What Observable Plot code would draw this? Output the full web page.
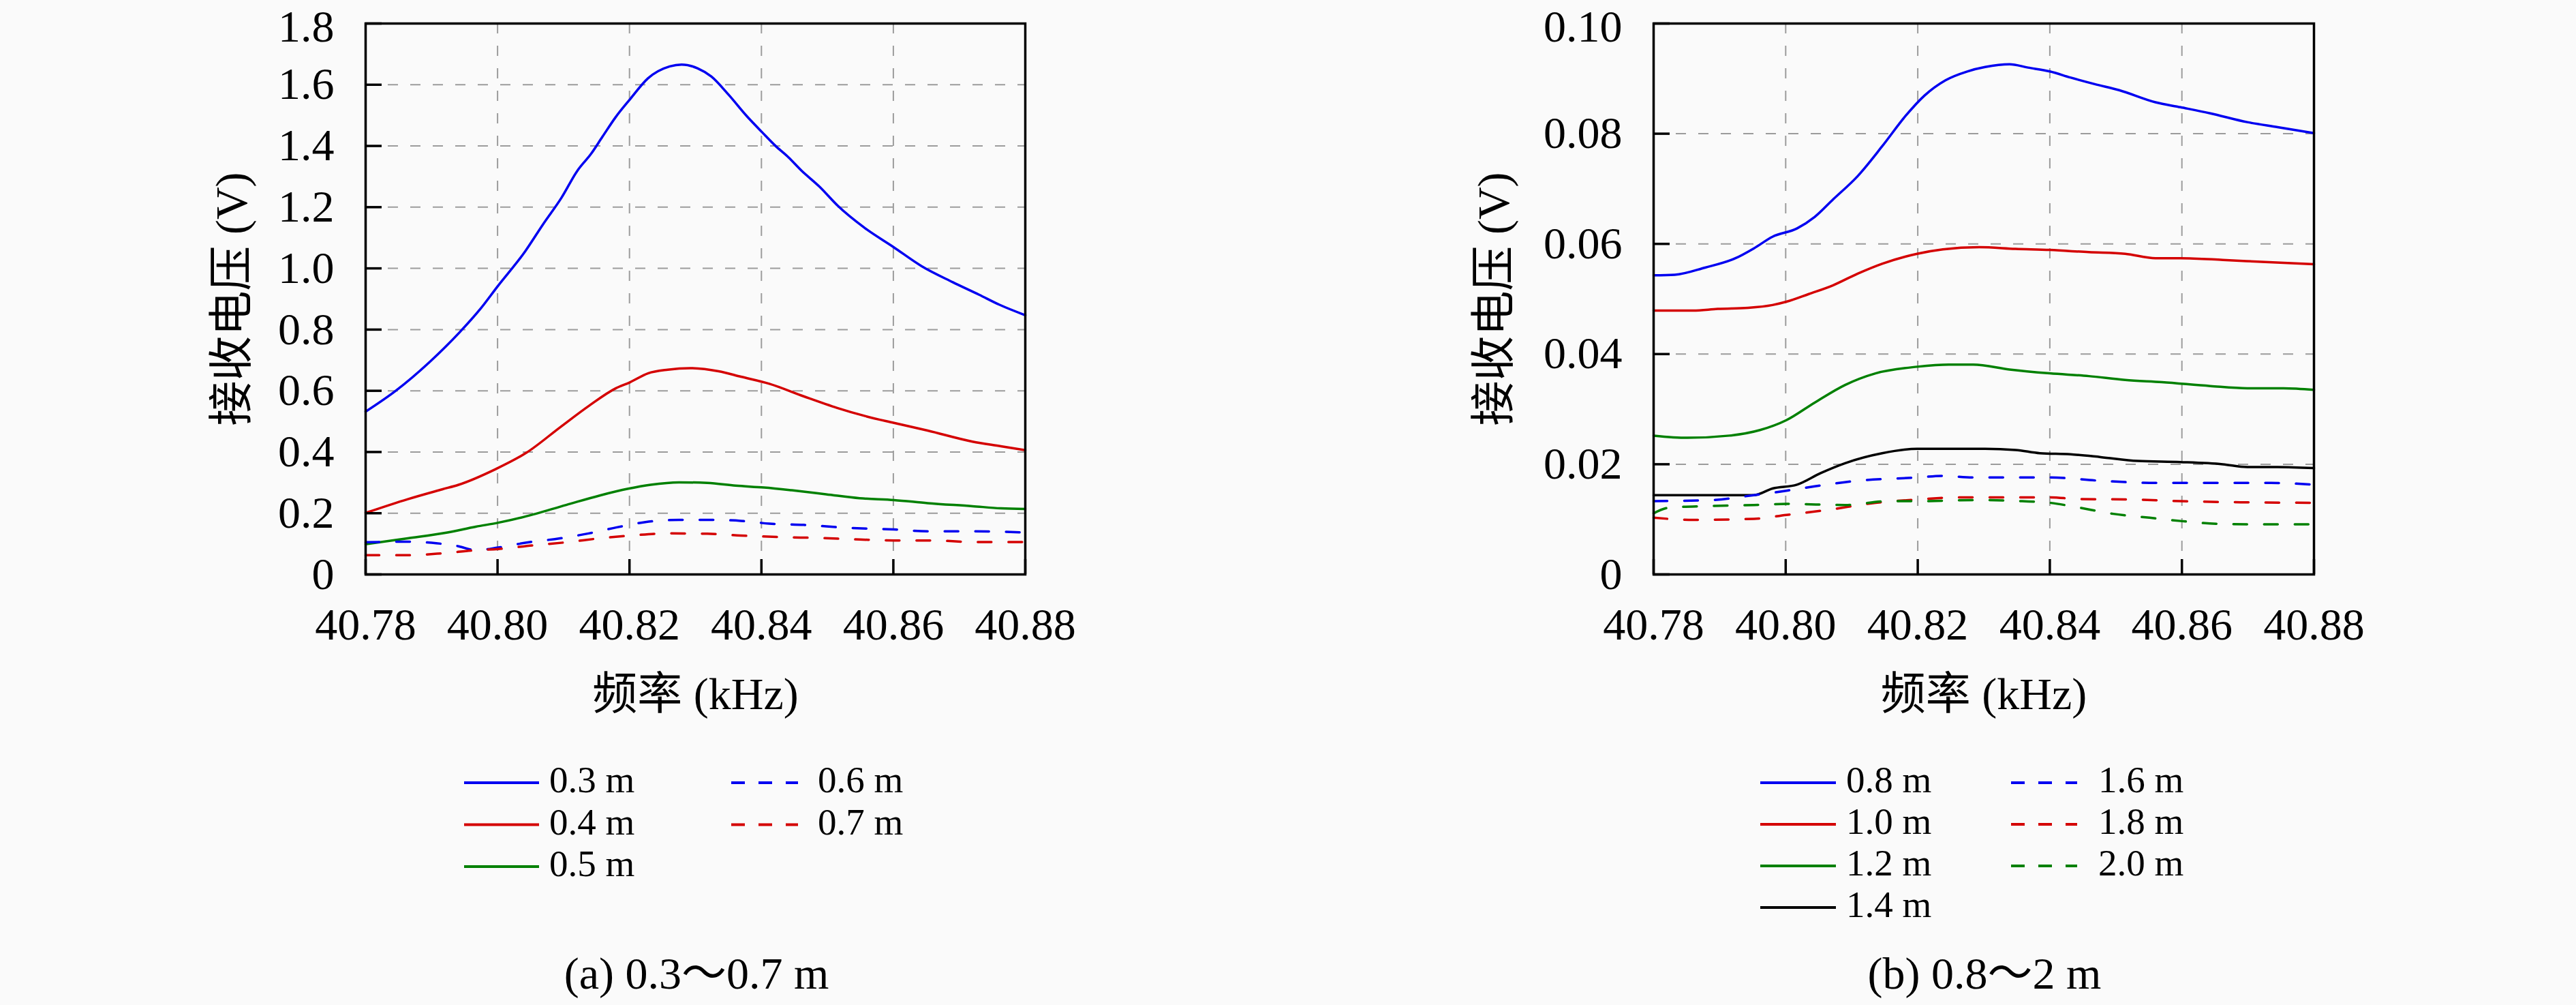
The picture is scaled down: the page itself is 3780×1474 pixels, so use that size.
<!DOCTYPE html>
<html>
<head>
<meta charset="utf-8">
<script src="https://cdn.jsdelivr.net/npm/d3@7"></script>
<script src="https://cdn.jsdelivr.net/npm/@observablehq/plot@0.6"></script>
<style>
html, body { margin: 0; padding: 0; background: #fafafa; }
#root { position: relative; width: 3780px; height: 1474px; overflow: hidden; background: #fafafa;
  font-family: "Liberation Serif", "Noto Sans CJK SC", serif; color: #000; }
.pw { position: absolute; top: 0; }
.txt { position: absolute; font-size: 55px; line-height: 0.85; white-space: pre; transform: translateY(-50%); }
.cap { position: absolute; font-size: 66px; line-height: 0.9; white-space: pre; transform: translate(-50%, -50%); }
#legsvg { position: absolute; left: 0; top: 0; }
</style>
</head>
<body>
<div id="root"></div>
<script>
// ---------------- DATA ----------------
const xTicks = [40.78, 40.80, 40.82, 40.84, 40.86, 40.88];
const yTicksA = [0, 0.2, 0.4, 0.6, 0.8, 1.0, 1.2, 1.4, 1.6, 1.8];
const yTicksB = [0, 0.02, 0.04, 0.06, 0.08, 0.10];
const xLabel = "频率 (kHz)";
const yLabel = "接收电压 (V)";
const captionA = "(a) 0.3～0.7 m";
const captionB = "(b) 0.8～2 m";

// Panel (a)
const labelsA = ["0.3 m", "0.4 m", "0.5 m", "0.6 m", "0.7 m"];
const f03 = [40.7800,40.7845,40.7897,40.7942,40.7973,40.8000,40.8042,40.8069,40.8097,40.8121,40.8142,40.8159,40.8179,40.8201,40.8228,40.8261,40.8279,40.8303,40.8324,40.8350,40.8378,40.8401,40.8421,40.8441,40.8461,40.8488,40.8516,40.8556,40.8600,40.8643,40.8690,40.8730,40.8761,40.8800];
const v03 = [0.532,0.599,0.694,0.790,0.865,0.941,1.056,1.144,1.231,1.319,1.375,1.430,1.494,1.553,1.621,1.660,1.666,1.654,1.627,1.568,1.497,1.445,1.401,1.363,1.319,1.267,1.204,1.133,1.070,1.007,0.955,0.914,0.881,0.847];
const f04 = [40.7800,40.7864,40.7916,40.7941,40.7997,40.8044,40.8095,40.8138,40.8179,40.8201,40.8228,40.8258,40.8292,40.8335,40.8369,40.8412,40.8464,40.8515,40.8558,40.8601,40.8652,40.8720,40.8763,40.8800];
const v04 = [0.201,0.246,0.278,0.293,0.344,0.398,0.481,0.550,0.608,0.628,0.657,0.669,0.674,0.664,0.646,0.623,0.582,0.544,0.517,0.495,0.470,0.434,0.419,0.406];
const f05 = [40.7800,40.7864,40.7924,40.7967,40.8001,40.8040,40.8104,40.8155,40.8198,40.8232,40.8275,40.8318,40.8361,40.8404,40.8446,40.8498,40.8549,40.8601,40.8652,40.8720,40.8763,40.8800];
const v05 = [0.099,0.118,0.137,0.156,0.169,0.188,0.227,0.258,0.280,0.293,0.301,0.299,0.290,0.284,0.275,0.262,0.249,0.243,0.233,0.223,0.216,0.214];
const f06 = [40.7800,40.7864,40.7907,40.7941,40.7967,40.8001,40.8044,40.8095,40.8138,40.8181,40.8224,40.8275,40.8327,40.8369,40.8412,40.8464,40.8532,40.8601,40.8652,40.8720,40.8800];
const v06 = [0.105,0.107,0.102,0.092,0.079,0.088,0.104,0.118,0.134,0.154,0.171,0.178,0.178,0.175,0.166,0.162,0.152,0.147,0.141,0.141,0.137];
const f07 = [40.7800,40.7864,40.7916,40.7967,40.8001,40.8053,40.8104,40.8155,40.8207,40.8258,40.8318,40.8369,40.8429,40.8489,40.8549,40.8601,40.8660,40.8720,40.8800];
const v07 = [0.063,0.063,0.069,0.079,0.083,0.095,0.105,0.118,0.128,0.134,0.133,0.127,0.122,0.119,0.114,0.111,0.111,0.106,0.106];

// Panel (b)
const labelsB = ["0.8 m", "1.0 m", "1.2 m", "1.4 m", "1.6 m", "1.8 m", "2.0 m"];
const f08 = [40.7800,40.7832,40.7878,40.7924,40.7952,40.7980,40.8017,40.8044,40.8072,40.8109,40.8146,40.8182,40.8210,40.8242,40.8275,40.8302,40.8339,40.8367,40.8400,40.8431,40.8468,40.8505,40.8560,40.8598,40.8643,40.8699,40.8745,40.8800];
const v08 = [0.0543,0.0544,0.0557,0.0574,0.0592,0.0613,0.0628,0.0649,0.0681,0.0723,0.0777,0.0833,0.0869,0.0897,0.0913,0.0921,0.0926,0.0920,0.0913,0.0902,0.0890,0.0879,0.0857,0.0848,0.0837,0.0821,0.0812,0.0801];
const f10 = [40.7800,40.7860,40.7897,40.7943,40.7980,40.8001,40.8035,40.8072,40.8109,40.8146,40.8199,40.8238,40.8293,40.8348,40.8400,40.8459,40.8514,40.8560,40.8598,40.8662,40.8726,40.8800];
const v10 = [0.0479,0.0479,0.0482,0.0484,0.0489,0.0495,0.0509,0.0525,0.0546,0.0564,0.0582,0.0590,0.0594,0.0591,0.0589,0.0585,0.0582,0.0574,0.0574,0.0571,0.0567,0.0563];
const f12 = [40.7800,40.7851,40.7915,40.7961,40.8001,40.8044,40.8090,40.8136,40.8199,40.8247,40.8284,40.8339,40.8400,40.8459,40.8514,40.8570,40.8643,40.8699,40.8754,40.8800];
const v12 = [0.0252,0.0248,0.0252,0.0262,0.0280,0.0312,0.0344,0.0365,0.0377,0.0381,0.0381,0.0372,0.0365,0.0360,0.0353,0.0349,0.0342,0.0338,0.0338,0.0335];
const f14 = [40.7800,40.7878,40.7952,40.7980,40.8017,40.8053,40.8090,40.8146,40.8199,40.8256,40.8302,40.8348,40.8385,40.8431,40.8477,40.8533,40.8598,40.8662,40.8699,40.8745,40.8800];
const v14 = [0.0144,0.0144,0.0144,0.0156,0.0163,0.0184,0.0202,0.0220,0.0228,0.0228,0.0228,0.0226,0.0220,0.0218,0.0213,0.0206,0.0204,0.0200,0.0195,0.0195,0.0193];
const f16 = [40.7800,40.7888,40.7952,40.8001,40.8044,40.8109,40.8199,40.8238,40.8284,40.8400,40.8477,40.8560,40.8662,40.8735,40.8800];
const v16 = [0.0133,0.0135,0.0144,0.0152,0.0160,0.0170,0.0176,0.0179,0.0176,0.0176,0.0170,0.0166,0.0166,0.0166,0.0163];
const f18 = [40.7800,40.7860,40.7952,40.8001,40.8063,40.8136,40.8199,40.8265,40.8339,40.8400,40.8441,40.8524,40.8598,40.8689,40.8800];
const v18 = [0.0103,0.0099,0.0101,0.0108,0.0117,0.0130,0.0136,0.0140,0.0140,0.0140,0.0137,0.0136,0.0133,0.0131,0.0130];
const f20 = [40.7800,40.7823,40.7878,40.7952,40.8001,40.8090,40.8155,40.8199,40.8293,40.8358,40.8400,40.8441,40.8496,40.8551,40.8598,40.8653,40.8708,40.8800];
const v20 = [0.0111,0.0121,0.0124,0.0126,0.0128,0.0126,0.0133,0.0133,0.0135,0.0133,0.0130,0.0122,0.0110,0.0103,0.0097,0.0092,0.0091,0.0091];

// ---------------- STYLE / LAYOUT ----------------
const BLUE = "#0000f0", RED = "#d40000", GREEN = "#008000", BLACK = "#000000";
const DASH = "20,25";
const seriesA = [
  {name: labelsA[0], f: f03, v: v03, color: BLUE,  dash: null},
  {name: labelsA[1], f: f04, v: v04, color: RED,   dash: null},
  {name: labelsA[2], f: f05, v: v05, color: GREEN, dash: null},
  {name: labelsA[3], f: f06, v: v06, color: BLUE,  dash: DASH},
  {name: labelsA[4], f: f07, v: v07, color: RED,   dash: DASH}
];
const seriesB = [
  {name: labelsB[0], f: f08, v: v08, color: BLUE,  dash: null},
  {name: labelsB[1], f: f10, v: v10, color: RED,   dash: null},
  {name: labelsB[2], f: f12, v: v12, color: GREEN, dash: null},
  {name: labelsB[3], f: f14, v: v14, color: BLACK, dash: null},
  {name: labelsB[4], f: f16, v: v16, color: BLUE,  dash: DASH},
  {name: labelsB[5], f: f18, v: v18, color: RED,   dash: DASH},
  {name: labelsB[6], f: f20, v: v20, color: GREEN, dash: DASH}
];

const FONT = '"Liberation Serif", "Noto Sans CJK SC", serif';
const H = 1080, MT = 34, MB = H - 842, MR = 40;

function chart({series, yDomain, yTicks, yFmt, marginLeft, width, labelDx}) {
  const fw = width - marginLeft - MR;
  const fh = H - MT - MB;
  const gridStyle = {stroke: "#9c9c9c", strokeOpacity: 1, strokeWidth: 2, strokeDasharray: "15,18"};
  const lines = series.map(s => {
    const rows = s.f.map((f, i) => ({f, v: s.v[i]}));
    return Plot.line(rows, {x: "f", y: "v", stroke: s.color, strokeWidth: 3.5,
      strokeDasharray: s.dash, curve: "monotone-x"});
  });
  const axisOpts = {tickSize: 0, tickPadding: 46, tickFormat: yFmt, label: null};
  return Plot.plot({
    width, height: H, marginLeft, marginRight: MR, marginTop: MT, marginBottom: MB,
    style: {background: "transparent", fontFamily: FONT, fontSize: "66px", color: "black", maxWidth: "none", overflow: "visible"},
    x: {domain: [40.78, 40.88], label: null},
    y: {domain: yDomain, label: null},
    marks: [
      Plot.gridX(xTicks.slice(1, -1), gridStyle),
      Plot.gridY(yTicks.slice(1, -1), gridStyle),
      ...lines,
      Plot.tickX(xTicks, {x: d => d, stroke: "black", strokeWidth: 3.5, insetTop: fh - 22}),
      Plot.tickY(yTicks, {y: d => d, stroke: "black", strokeWidth: 3.5, insetRight: fw - 24}),
      Plot.frame({stroke: "black", strokeWidth: 3.5}),
      Plot.axisX(xTicks, {tickSize: 0, tickPadding: 49, tickFormat: d => d.toFixed(2), label: null}),
      Plot.axisY(yTicks.slice(0, -1), axisOpts),
      Plot.axisY(yTicks.slice(-1), {...axisOpts, dy: 5}),
      Plot.text([xLabel], {frameAnchor: "bottom", dy: 176, lineAnchor: "middle", textAnchor: "middle", text: d => d}),
      Plot.text([yLabel], {frameAnchor: "left", dx: labelDx, rotate: -90, lineAnchor: "middle", textAnchor: "middle", text: d => d})
    ]
  });
}

const root = document.getElementById("root");

function place(node, left) {
  const w = document.createElement("div");
  w.className = "pw";
  w.style.left = left + "px";
  w.appendChild(node);
  root.appendChild(w);
}

place(chart({series: seriesA, yDomain: [0, 1.8], yTicks: yTicksA,
  yFmt: d => d === 0 ? "0" : d.toFixed(1), marginLeft: 536, width: 1504 + MR, labelDx: -196}), 0);
place(chart({series: seriesB, yDomain: [0, 0.10], yTicks: yTicksB,
  yFmt: d => d === 0 ? "0" : d.toFixed(2), marginLeft: 426, width: 3395 - 2000 + MR, labelDx: -234}), 2000);

// ---------------- LEGENDS ----------------
const legSvg = d3.select(root).append("svg").attr("id", "legsvg").attr("width", 3780).attr("height", 1474);
function legend(items, cols, y0, dy) {
  items.forEach((s, i) => {
    const c = cols[i < cols[0].n ? 0 : 1];
    const row = i < cols[0].n ? i : i - cols[0].n;
    const y = y0 + row * dy;
    legSvg.append("line").attr("x1", c.x1).attr("x2", c.x2).attr("y1", y).attr("y2", y)
      .attr("stroke", s.color).attr("stroke-width", 4)
      .attr("stroke-dasharray", s.dash ? "20,20" : null);
    const t = document.createElement("div");
    t.className = "txt";
    t.style.left = c.tx + "px";
    t.style.top = (y - 4) + "px";
    t.textContent = s.name;
    root.appendChild(t);
  });
}
legend(seriesA, [{n: 3, x1: 681, x2: 791, tx: 806}, {x1: 1073, x2: 1171, tx: 1200}], 1148, 61.5);
legend(seriesB, [{n: 4, x1: 2583, x2: 2694, tx: 2709}, {x1: 2951, x2: 3048, tx: 3079}], 1148, 61);

function caption(text, cx, cy) {
  const t = document.createElement("div");
  t.className = "cap";
  t.style.left = cx + "px";
  t.style.top = cy + "px";
  t.textContent = text;
  root.appendChild(t);
}
caption(captionA, 1022, 1428);
caption(captionB, 2912, 1428);
</script>
</body>
</html>
